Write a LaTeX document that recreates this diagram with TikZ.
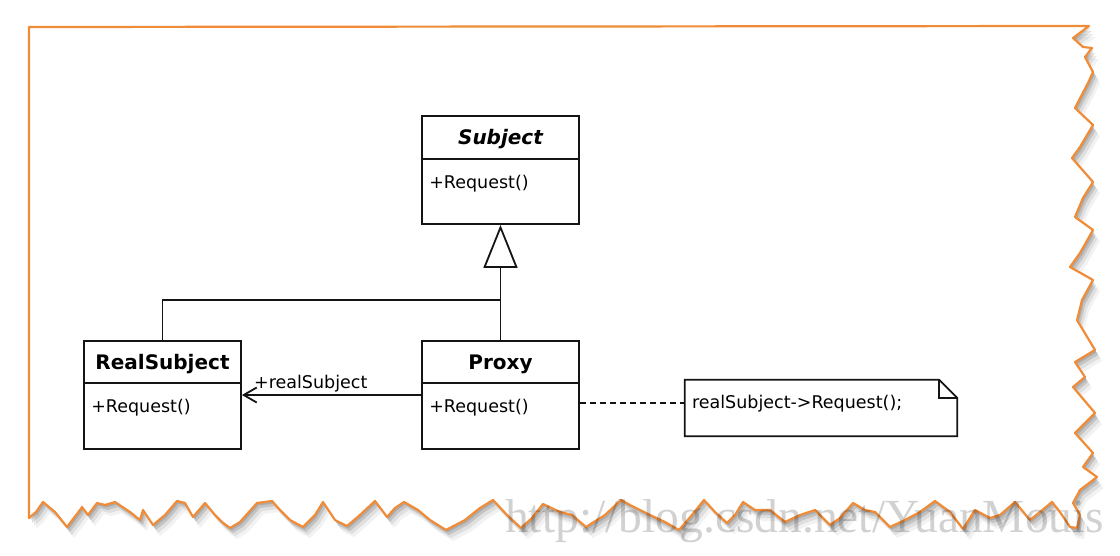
\documentclass[tikz,border=0pt]{standalone}
\usepackage{fontspec}
\setmainfont{DejaVu Sans}
\newfontfamily\wmfont{Liberation Serif}
\usetikzlibrary{arrows.meta}
\definecolor{frameorange}{RGB}{240,140,55}
\definecolor{umlline}{RGB}{20,20,20}
\tikzset{
  cls/.style={draw=umlline, line width=1.8pt, minimum width=157pt, minimum height=108pt, inner sep=0pt, fill=white},
  clstitle/.style={font=\fontsize{20}{24}\selectfont\bfseries, inner sep=0pt},
  clsop/.style={font=\fontsize{17.5}{21}\selectfont, inner sep=0pt, anchor=west},
  conn/.style={draw=umlline, line width=1.8pt},
  framestyle/.style={draw=frameorange, line width=2.2pt, fill=white, line join=round},
  shadowstyle/.style={fill=black, draw=none},
}
\def\myframe{(29,27) -- (1089,26) -- (1073,38) -- (1083,47) -- (1092,48) -- (1085,57) -- (1093,72) -- (1088,83) -- (1075,108) -- (1093,125) -- (1080,147) -- (1072,158) -- (1093,182) -- (1083,198) -- (1075,217) -- (1093,230) -- (1080,253) -- (1070,267) -- (1093,280) -- (1082,300) -- (1077,320) -- (1095,350) -- (1075,362) -- (1085,377) -- (1073,387) -- (1095,413) -- (1075,433) -- (1093,453) -- (1083,467) -- (1097,477) -- (1080,490) -- (1073,503) -- (1080,515) -- (1077,528) -- (1070,527) -- (1060,512) -- (1052,502) -- (1040,512) -- (1030,520) -- (1015,502) -- (1000,515) -- (990,518) -- (975,510) -- (963,529) -- (950,512) -- (935,501) -- (920,512) -- (905,520) -- (890,527) -- (875,512) -- (865,510) -- (853,503) -- (840,518) -- (830,525) -- (815,510) -- (800,515) -- (785,522) -- (770,510) -- (755,510) -- (743,502) -- (735,515) -- (727,523) -- (715,512) -- (704,500) -- (692,515) -- (679,530) -- (665,522) -- (650,515) -- (630,505) -- (621,500) -- (605,515) -- (586,527) -- (572,515) -- (560,512) -- (543,504) -- (532,518) -- (521,528) -- (507,515) -- (493,500) -- (480,508) -- (465,520) -- (446,530) -- (430,520) -- (418,510) -- (404,502) -- (395,508) -- (387,517) -- (375,501) -- (360,515) -- (347,526) -- (335,520) -- (323,502) -- (315,515) -- (303,527) -- (290,520) -- (280,510) -- (272,501) -- (257,503) -- (240,522) -- (230,528) -- (222,522) -- (215,515) -- (205,503) -- (193,517) -- (185,503) -- (177,501) -- (165,515) -- (153,525) -- (143,510) -- (140,520) -- (130,512) -- (115,502) -- (105,505) -- (97,503) -- (88,515) -- (82,507) -- (80,510) -- (67,527) -- (55,512) -- (43,502) -- (36,512) -- (29,518) -- cycle}
\begin{document}
\begin{tikzpicture}[x=1pt,y=-1pt]
\useasboundingbox[fill=white] (0,0) rectangle (1120,556);
% shadow
\begin{scope}[shift={(7,11)}]\fill[shadowstyle, opacity=0.05] \myframe;\end{scope}
\begin{scope}[shift={(5,8)}]\fill[shadowstyle, opacity=0.08] \myframe;\end{scope}
\begin{scope}[shift={(3,5)}]\fill[shadowstyle, opacity=0.12] \myframe;\end{scope}
\begin{scope}[shift={(1.5,2.5)}]\fill[shadowstyle, opacity=0.12] \myframe;\end{scope}
% frame
\path[framestyle] \myframe;

% classes
\node[cls] (subj) at (500.5,170) {};
\draw[conn] ([yshift=-44pt]subj.north west) -- ([yshift=-44pt]subj.north east);
\node[clstitle, font=\fontsize{20}{24}\selectfont\bfseries\itshape] (subjt) at ([yshift=-24pt]subj.north) {Subject};
\node[clsop] (subjop) at ([xshift=8pt,yshift=-69pt]subj.north west) {+Request()};

\node[cls] (rs) at (162.5,395) {};
\draw[conn] ([yshift=-43pt]rs.north west) -- ([yshift=-43pt]rs.north east);
\node[clstitle] (rst) at ([yshift=-24pt]rs.north) {RealSubject};
\node[clsop] (rsop) at ([xshift=8pt,yshift=-68pt]rs.north west) {+Request()};

\node[cls] (proxy) at (500.5,395) {};
\draw[conn] ([yshift=-43pt]proxy.north west) -- ([yshift=-43pt]proxy.north east);
\node[clstitle] (proxyt) at ([yshift=-24pt]proxy.north) {Proxy};
\node[clsop] (proxyop) at ([xshift=8pt,yshift=-68pt]proxy.north west) {+Request()};

% generalization
\coordinate (j) at (500.5,300);
\draw[conn, -{Triangle[open, width=34pt, length=43pt]}] (proxy.north) -- (subj.south);
\draw[conn] (rs.north) |- (j);

% association
\draw[conn, -{Straight Barb[length=13pt, width=15pt]}] (proxy.west) -- (rs.east);
\node[clsop, anchor=south west] (lbl) at ([xshift=12pt,yshift=3pt]rs.east) {+realSubject};

% note
\node[minimum width=272pt, minimum height=56pt, inner sep=0pt] (note) at (821,408) {};
\draw[conn] (note.south west) -- (note.north west) -- ([xshift=-18pt]note.north east) -- ([yshift=-18pt]note.north east) -- (note.south east) -- cycle;
\draw[conn] ([xshift=-18pt]note.north east) |- ([yshift=-18pt]note.north east);
\node[clsop] (notetxt) at ([xshift=7pt,yshift=4pt]note.west) {realSubject->Request();};
\draw[conn, dash pattern=on 6pt off 4pt, line width=1.5pt] ([yshift=-8pt]proxy.east) -- ([yshift=-8pt]proxy.east -| note.west);

% watermark
\node[font=\wmfont\fontsize{47.5}{48}\selectfont, text=black, opacity=0.18, anchor=base west, inner sep=0pt] (wm) at (505,532) {http://blog.csdn.net/YuanMouis};
\end{tikzpicture}
\end{document}
